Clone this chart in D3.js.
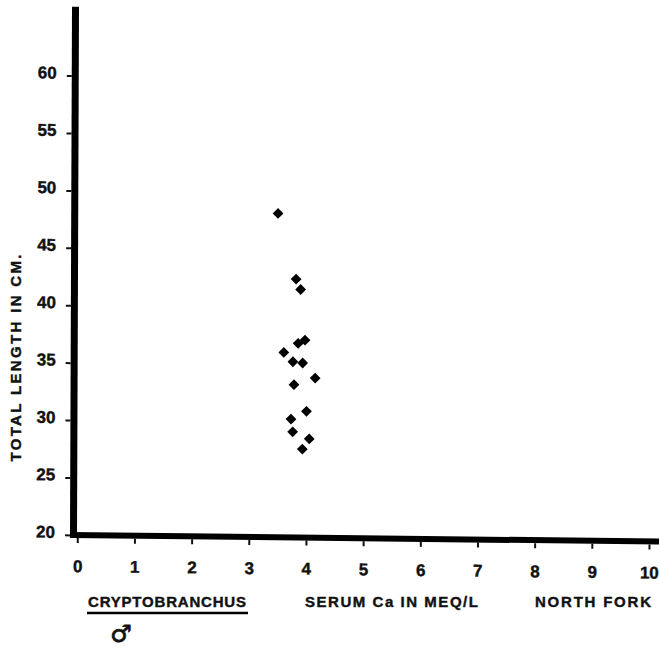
<!DOCTYPE html>
<html>
<head>
<meta charset="utf-8">
<script src="https://cdn.jsdelivr.net/npm/d3@7"></script>
<style>
  body { margin: 0; background: #fff; }
  text { font-family: "Liberation Sans", Arial, sans-serif; font-weight: bold; fill: #111; }
</style>
</head>
<body>
<div id="root"></div>
<script>
// serum Ca (meq/l) vs total length (cm), Cryptobranchus males, North Fork
const serumCa = [3.49, 3.81, 3.89, 3.97, 3.85, 3.60, 3.76, 3.93, 4.15, 3.78, 4.00, 3.73, 3.76, 4.05, 3.93]
const totalLength = [48.2, 42.5, 41.6, 37.2, 36.9, 36.1, 35.3, 35.2, 33.9, 33.3, 31.0, 30.3, 29.2, 28.6, 27.7]
const xTicks = [0, 1, 2, 3, 4, 5, 6, 7, 8, 9, 10]
const yTicks = [20, 25, 30, 35, 40, 45, 50, 55, 60]

function drawChart() {
    const w = 659, h = 650
    const ox = 77.3, oy = 535

    const x = d3.scaleLinear().domain([0, 10]).range([ox, 649])
    const y = d3.scaleLinear().domain([20, 60]).range([oy, 75.7])

    const svg = d3.select("#root").append("svg")
        .attr("width", w)
        .attr("height", h)

    svg.append("rect").attr("width", w).attr("height", h).attr("fill", "white")

    // the scanned plot is slightly skewed, so the frame gets a small shear
    const a = -0.0038, b = 0.0113
    const g = svg.append("g")
        .attr("transform", `matrix(1,${b},${a},1,${-a * oy},${-b * ox})`)

    const tickFont = sel => sel
        .style("font-family", "'Liberation Sans Narrow', 'Liberation Sans', Arial, sans-serif")
        .style("font-weight", "bold")
        .style("font-size", "17px")
        .attr("fill", "#111")
        .attr("stroke", "#111")
        .attr("stroke-width", 0.4)

    // y axis ticks + labels
    const yAxis = g.append("g")
        .attr("transform", "translate(70,0)")
        .call(d3.axisLeft(y).tickValues(yTicks).tickSize(5).tickSizeOuter(0).tickPadding(10))
    yAxis.select(".domain").remove()
    yAxis.selectAll("line").attr("stroke", "#111").attr("stroke-width", 2)
    yAxis.selectAll("text").attr("dy", "0.15em").call(tickFont)

    // x axis ticks + labels
    const xAxis = g.append("g")
        .attr("transform", "translate(0,538)")
        .call(d3.axisBottom(x).tickValues(xTicks).tickSize(5).tickSizeOuter(0).tickPadding(17))
    xAxis.select(".domain").remove()
    xAxis.selectAll("line").attr("stroke", "#111").attr("stroke-width", 2)
    xAxis.selectAll("text").call(tickFont)

    // heavy axis bars
    g.append("rect")
        .attr("x", 70)
        .attr("y", y(66))
        .attr("width", 7)
        .attr("height", oy + 3 - y(66))
        .attr("fill", "#000")
    g.append("rect")
        .attr("x", 70)
        .attr("y", oy - 3)
        .attr("width", x(10.3) - 70)
        .attr("height", 6)
        .attr("fill", "#000")

    // points
    const pts = serumCa.map((v, i) => ({ca: v, len: totalLength[i]}))
    g.selectAll("path.pt")
        .data(pts)
        .enter()
        .append("path")
        .attr("class", "pt")
        .attr("d", d3.symbol().type(d3.symbolSquare).size(58))
        .attr("fill", "#000")
        .attr("transform", d => `translate(${x(d.ca)},${y(d.len)}) rotate(45)`)

    const caption = sel => sel
        .attr("font-size", 15)
        .attr("stroke", "#111")
        .attr("stroke-width", 0.4)
        .attr("lengthAdjust", "spacing")

    // y title
    svg.append("text")
        .attr("transform", "translate(21,358) rotate(-90)")
        .attr("text-anchor", "middle")
        .attr("textLength", 207)
        .call(caption)
        .text("TOTAL  LENGTH  IN  CM.")

    // bottom captions
    svg.append("text")
        .attr("x", 88).attr("y", 607)
        .attr("textLength", 158)
        .call(caption)
        .text("CRYPTOBRANCHUS")
    svg.append("line")
        .attr("x1", 87).attr("x2", 248)
        .attr("y1", 613).attr("y2", 613)
        .attr("stroke", "#000").attr("stroke-width", 2.5)
    svg.append("text")
        .attr("x", 305).attr("y", 607)
        .attr("textLength", 173)
        .call(caption)
        .text("SERUM  Ca  IN  MEQ/L")
    svg.append("text")
        .attr("x", 535).attr("y", 607)
        .attr("textLength", 116)
        .call(caption)
        .text("NORTH  FORK")

    svg.append("text")
        .attr("x", 121).attr("y", 642)
        .attr("text-anchor", "middle")
        .style("font-family", "DejaVu Sans, sans-serif")
        .attr("font-size", 24)
        .attr("stroke", "#111")
        .attr("stroke-width", 0.8)
        .text("\u2642")
}

drawChart()
</script>
</body>
</html>
